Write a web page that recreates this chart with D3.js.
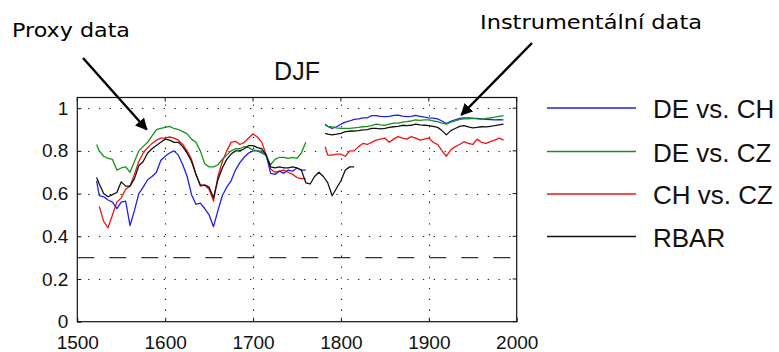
<!DOCTYPE html>
<html>
<head>
<meta charset="utf-8">
<script src="https://cdn.jsdelivr.net/npm/d3@7"></script>
<style>
  html, body { margin: 0; padding: 0; background: #fff; }
  svg { display: block; }
</style>
</head>
<body>
<svg id="chart" width="779" height="352"></svg>
<script>
// ---------------- DATA ----------------
const title = "DJF";
const xTicks = [1500, 1600, 1700, 1800, 1900, 2000];
const xTickLabels = ["1500", "1600", "1700", "1800", "1900", "2000"];
const yTicks = [0, 0.2, 0.4, 0.6, 0.8, 1];
const yTickLabels = ["0", "0.2", "0.4", "0.6", "0.8", "1"];
const thresholdValue = 0.3;

const seriesNames = ["DE vs. CH", "DE vs. CZ", "CH vs. CZ", "RBAR"];
const seriesColors = ["#1f1ff0", "#16921a", "#f01414", "#111111"];

// proxy period
const proxyYears = [1522, 1525, 1530, 1535, 1540, 1545, 1550, 1555, 1560, 1565,
  1570, 1575, 1580, 1585, 1590, 1595, 1600, 1605, 1610, 1615,
  1620, 1625, 1630, 1635, 1640, 1645, 1650, 1655, 1660, 1665,
  1670, 1675, 1680, 1685, 1690, 1695, 1700, 1705, 1710, 1715,
  1720, 1725, 1730, 1735, 1740, 1745, 1750, 1755, 1760, 1765,
  1770, 1775, 1780, 1785, 1790, 1795, 1800, 1805, 1810, 1815];

const proxyDEvsCH = [0.66, 0.59, 0.585, 0.57, 0.56, 0.53, 0.56, 0.565, 0.45, 0.52,
  0.60, 0.63, 0.665, 0.68, 0.70, 0.755, 0.775, 0.79, 0.80, 0.78,
  0.735, 0.68, 0.595, 0.55, 0.555, 0.53, 0.50, 0.445, 0.52, 0.59,
  0.63, 0.66, 0.71, 0.745, 0.77, 0.79, 0.80, 0.80, 0.79, 0.78,
  0.695, 0.69, 0.705, 0.695, 0.71, 0.705, 0.72, 0.71, 0.71, null,
  null, null, null, null, null, null, null, null, null, null];

const proxyDEvsCZ = [0.83, 0.80, 0.775, 0.765, 0.76, 0.71, 0.72, 0.725, 0.70, 0.75,
  0.80, 0.82, 0.84, 0.87, 0.90, 0.905, 0.91, 0.915, 0.905, 0.90,
  0.89, 0.88, 0.855, 0.84, 0.80, 0.74, 0.725, 0.725, 0.735, 0.76,
  0.78, 0.80, 0.81, 0.81, 0.82, 0.815, 0.805, 0.80, 0.80, 0.775,
  0.735, 0.76, 0.77, 0.77, 0.765, 0.77, 0.765, 0.79, 0.84, null,
  null, null, null, null, null, null, null, null, null, null];

const proxyCHvsCZ = [null, 0.54, 0.47, 0.44, 0.50, 0.56, 0.58, 0.62, 0.635, 0.69,
  0.75, 0.79, 0.815, 0.835, 0.85, 0.86, 0.86, 0.865, 0.86, 0.85,
  0.83, 0.80, 0.76, 0.69, 0.635, 0.64, 0.62, 0.565, 0.68, 0.75,
  0.80, 0.84, 0.845, 0.83, 0.84, 0.86, 0.88, 0.865, 0.84, 0.78,
  0.715, 0.70, 0.705, 0.71, 0.70, 0.69, 0.675, 0.67, 0.67, null,
  null, null, null, null, null, null, null, null, null, null];

const proxyRBAR = [0.675, 0.645, 0.60, 0.585, 0.595, 0.605, 0.655, 0.635, 0.635, 0.67,
  0.73, 0.75, 0.79, 0.81, 0.825, 0.84, 0.855, 0.85, 0.84, 0.84,
  0.82, 0.79, 0.75, 0.69, 0.64, 0.64, 0.63, 0.58, 0.665, 0.72,
  0.76, 0.785, 0.80, 0.80, 0.81, 0.825, 0.825, 0.815, 0.81, 0.78,
  0.725, 0.72, 0.725, 0.72, 0.72, 0.725, 0.72, 0.71, 0.65, 0.645,
  0.68, 0.70, 0.68, 0.65, 0.59, 0.625, 0.66, 0.71, 0.725, 0.725];

// instrumental period
const instrYears = [1782, 1785, 1790, 1795, 1800, 1805, 1810, 1815, 1820, 1825,
  1830, 1835, 1840, 1845, 1850, 1855, 1860, 1865, 1870, 1875,
  1880, 1885, 1890, 1895, 1900, 1905, 1910, 1915, 1920, 1925,
  1930, 1935, 1940, 1945, 1950, 1955, 1960, 1965, 1970, 1975,
  1980, 1985];

const instrDEvsCH = [0.925, 0.915, 0.905, 0.913, 0.925, 0.935, 0.94, 0.948, 0.95, 0.955,
  0.955, 0.965, 0.965, 0.962, 0.96, 0.962, 0.966, 0.967, 0.963, 0.96,
  0.962, 0.966, 0.962, 0.958, 0.955, 0.953, 0.95, 0.94, 0.928, 0.938,
  0.945, 0.952, 0.955, 0.955, 0.953, 0.952, 0.95, 0.948, 0.947, 0.945,
  0.946, 0.945];

const instrDEvsCZ = [0.92, 0.915, 0.912, 0.908, 0.905, 0.905, 0.905, 0.908, 0.91, 0.913,
  0.915, 0.918, 0.925, 0.922, 0.92, 0.925, 0.93, 0.93, 0.935, 0.937,
  0.94, 0.945, 0.943, 0.945, 0.945, 0.94, 0.937, 0.93, 0.925, 0.935,
  0.94, 0.948, 0.95, 0.95, 0.952, 0.95, 0.948, 0.952, 0.955, 0.958,
  0.962, 0.965];

const instrCHvsCZ = [0.82, 0.78, 0.78, 0.785, 0.785, 0.775, 0.80, 0.80, 0.82, 0.835,
  0.83, 0.84, 0.85, 0.855, 0.86, 0.84, 0.855, 0.867, 0.86, 0.855,
  0.867, 0.86, 0.85, 0.855, 0.86, 0.84, 0.83, 0.80, 0.775, 0.805,
  0.82, 0.83, 0.843, 0.835, 0.83, 0.855, 0.84, 0.835, 0.843, 0.85,
  0.86, 0.85];

const instrRBAR = [0.882, 0.878, 0.875, 0.878, 0.882, 0.89, 0.892, 0.893, 0.895, 0.898,
  0.90, 0.905, 0.905, 0.903, 0.905, 0.91, 0.913, 0.915, 0.92, 0.918,
  0.92, 0.925, 0.922, 0.92, 0.918, 0.915, 0.91, 0.895, 0.875, 0.895,
  0.905, 0.915, 0.918, 0.912, 0.908, 0.91, 0.913, 0.912, 0.915, 0.918,
  0.922, 0.925];

// annotations (tip positions in data space)
const annoProxyLabel = "Proxy data";
const annoProxyTip = [1579, 0.90];
const annoInstrLabel = "Instrumentální data";
const annoInstrTip = [1937, 0.968];

// ---------------- DRAW ----------------
const svg = d3.select("#chart");
const x = d3.scaleLinear().domain([1500, 2000]).range([77.3, 516.7]);
const y = d3.scaleLinear().domain([0, 1.05]).range([321.7, 97.5]);
const font = "'Liberation Sans', Arial, Helvetica, sans-serif";
const handFont = "'DejaVu Sans', 'Comic Sans MS', sans-serif";

const x0 = x.range()[0], x1 = x.range()[1];
const yb = y.range()[0], yt = y.range()[1];

// grid
const grid = svg.append("g").attr("stroke", "#222").attr("stroke-width", 1.1)
  .attr("stroke-dasharray", "1.3,9.5");
grid.selectAll("line.gy").data(yTicks.filter(d => d > 0)).join("line")
  .attr("x1", x0).attr("x2", x1)
  .attr("y1", d => Math.round(y(d)) + 0.5).attr("y2", d => Math.round(y(d)) + 0.5);
grid.selectAll("line.gx").data(xTicks.slice(1, -1)).join("line")
  .attr("y1", yb).attr("y2", yt)
  .attr("x1", d => Math.round(x(d)) + 0.5).attr("x2", d => Math.round(x(d)) + 0.5);

// threshold dashed line
svg.append("line")
  .attr("x1", x0).attr("x2", x1)
  .attr("y1", y(thresholdValue)).attr("y2", y(thresholdValue))
  .attr("stroke", "#333").attr("stroke-width", 1.3)
  .attr("stroke-dasharray", "17,15");

// series lines
const lineGen = () => d3.line()
  .defined(d => d[1] !== null)
  .x(d => x(d[0])).y(d => y(d[1]));

function drawSeries(years, vals, color) {
  const pts = years.map((yr, i) => [yr, vals[i]]);
  svg.append("path").datum(pts)
    .attr("fill", "none").attr("stroke", color).attr("stroke-width", 1.3)
    .attr("stroke-linejoin", "round")
    .attr("d", lineGen()(pts));
}
const proxySets = [proxyDEvsCH, proxyDEvsCZ, proxyCHvsCZ, proxyRBAR];
const instrSets = [instrDEvsCH, instrDEvsCZ, instrCHvsCZ, instrRBAR];
// draw order: red, blue, green, black on top
[2, 0, 1, 3].forEach(i => {
  drawSeries(proxyYears, proxySets[i], seriesColors[i]);
  drawSeries(instrYears, instrSets[i], seriesColors[i]);
});

// axes box
svg.append("rect").attr("x", x0).attr("y", yt)
  .attr("width", x1 - x0).attr("height", yb - yt)
  .attr("fill", "none").attr("stroke", "#111").attr("stroke-width", 1.2);

// x axis
const xAxis = d3.axisBottom(x).tickValues(xTicks)
  .tickFormat((d, i) => xTickLabels[i]).tickSizeInner(-4).tickSizeOuter(0).tickPadding(14);
const gx = svg.append("g").attr("transform", `translate(0,${yb})`).call(xAxis);
gx.select(".domain").remove();
gx.selectAll("line").attr("stroke", "#111");
gx.selectAll("text").attr("font-family", font).attr("font-size", 19).attr("fill", "#111");

// top ticks
svg.append("g").selectAll("line").data(xTicks).join("line")
  .attr("x1", d => x(d)).attr("x2", d => x(d)).attr("y1", yt).attr("y2", yt + 4)
  .attr("stroke", "#111");

// y axis
const yAxis = d3.axisLeft(y).tickValues(yTicks)
  .tickFormat((d, i) => yTickLabels[i]).tickSizeInner(-4).tickSizeOuter(0).tickPadding(9);
const gy = svg.append("g").attr("transform", `translate(${x0},0)`).call(yAxis);
gy.select(".domain").remove();
gy.selectAll("line").attr("stroke", "#111");
gy.selectAll("text").attr("font-family", font).attr("font-size", 19).attr("fill", "#111");

// right ticks
svg.append("g").selectAll("line").data(yTicks).join("line")
  .attr("x1", x1 - 4).attr("x2", x1).attr("y1", d => y(d)).attr("y2", d => y(d))
  .attr("stroke", "#111");

// title
svg.append("text").attr("x", (x0 + x1) / 2).attr("y", 80)
  .attr("text-anchor", "middle").attr("font-family", font).attr("font-size", 25)
  .attr("fill", "#111").text(title);

// legend
const legend = svg.append("g");
const legY = [108, 151.5, 194, 236.5];
seriesNames.forEach((name, i) => {
  legend.append("line").attr("x1", 547).attr("x2", 636)
    .attr("y1", legY[i]).attr("y2", legY[i])
    .attr("stroke", seriesColors[i]).attr("stroke-width", 1.4);
  legend.append("text").attr("x", 653).attr("y", legY[i] + 10)
    .attr("font-family", font).attr("font-size", 26).attr("fill", "#111")
    .text(name);
});

// annotations
const defs = svg.append("defs");
defs.append("marker").attr("id", "arrow").attr("viewBox", "0 0 10 10")
  .attr("refX", 9).attr("refY", 5).attr("markerWidth", 5).attr("markerHeight", 5)
  .attr("markerUnits", "strokeWidth").attr("orient", "auto")
  .append("path").attr("d", "M0,0 L10,5 L0,10 z").attr("fill", "#000");

svg.append("line").attr("x1", 83).attr("y1", 58)
  .attr("x2", x(annoProxyTip[0])).attr("y2", y(annoProxyTip[1]))
  .attr("stroke", "#000").attr("stroke-width", 2.4).attr("marker-end", "url(#arrow)");
svg.append("text").attr("x", 12).attr("y", 37)
  .attr("font-family", handFont).attr("font-size", 20).attr("fill", "#000")
  .attr("textLength", 118).attr("lengthAdjust", "spacingAndGlyphs")
  .text(annoProxyLabel);

svg.append("line").attr("x1", 532).attr("y1", 43)
  .attr("x2", x(annoInstrTip[0])).attr("y2", y(annoInstrTip[1]))
  .attr("stroke", "#000").attr("stroke-width", 2.4).attr("marker-end", "url(#arrow)");
svg.append("text").attr("x", 480).attr("y", 29)
  .attr("font-family", handFont).attr("font-size", 20).attr("fill", "#000")
  .attr("textLength", 222).attr("lengthAdjust", "spacingAndGlyphs")
  .text(annoInstrLabel);
</script>
</body>
</html>
